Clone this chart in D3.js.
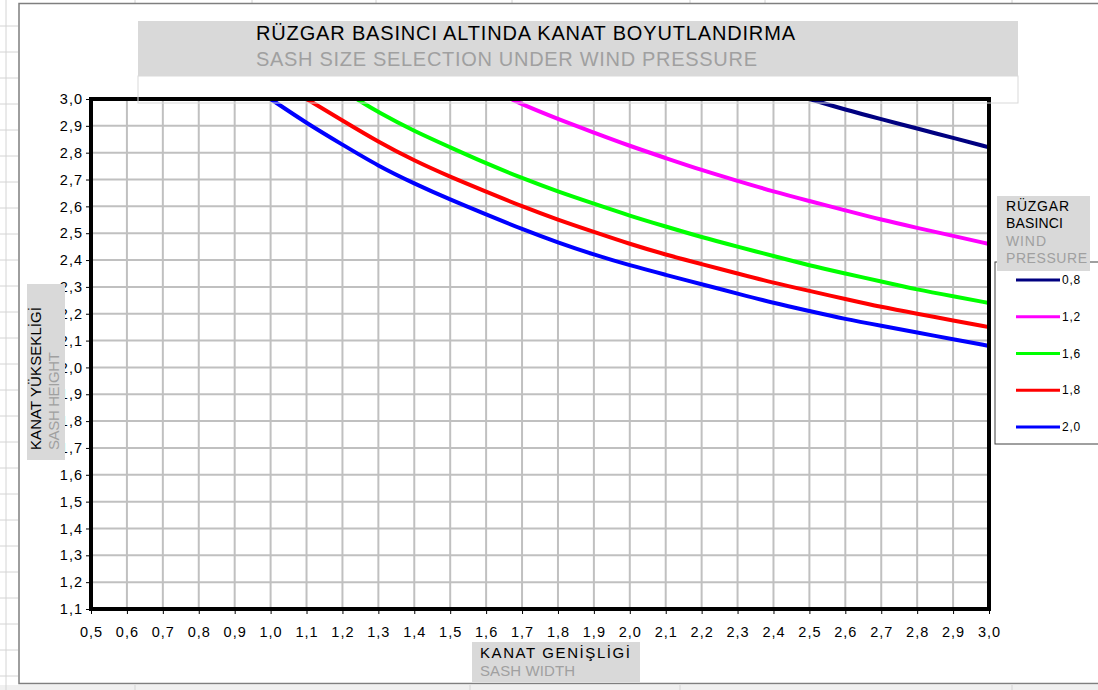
<!DOCTYPE html>
<html>
<head>
<meta charset="utf-8">
<script src="https://cdn.jsdelivr.net/npm/d3@7"></script>
<style>
	body { margin: 0; background: #fff; }
	text { font-family: "Liberation Sans", Arial, sans-serif; }
</style>
</head>
<body>
<svg id="chart"></svg>
<script>
// DATA

var pressures = ["0,8", "1,2", "1,6", "1,8", "2,0"];
var colors = ["#000080", "#ff00ff", "#00ff00", "#ff0000", "#0000ff"];

var w08 = [2.5, 2.6, 2.7, 2.8, 2.9, 3.0];
var h08 = [3.0, 2.96, 2.925, 2.89, 2.855, 2.82];

var w12 = [1.67, 1.7, 1.8, 1.9, 2.0, 2.1, 2.2, 2.3, 2.4, 2.5, 2.6, 2.7, 2.8, 2.9, 3.0];
var h12 = [3.0, 2.98, 2.925, 2.875, 2.825, 2.78, 2.735, 2.695, 2.655, 2.62, 2.585, 2.55, 2.52, 2.49, 2.46];

var w16 = [1.24, 1.3, 1.4, 1.5, 1.6, 1.7, 1.8, 1.9, 2.0, 2.1, 2.2, 2.3, 2.4, 2.5, 2.6, 2.7, 2.8, 2.9, 3.0];
var h16 = [3.0, 2.95, 2.88, 2.82, 2.76, 2.705, 2.655, 2.61, 2.565, 2.525, 2.485, 2.45, 2.415, 2.38, 2.35, 2.32, 2.29, 2.265, 2.24];

var w18 = [1.1, 1.2, 1.3, 1.4, 1.5, 1.6, 1.7, 1.8, 1.9, 2.0, 2.1, 2.2, 2.3, 2.4, 2.5, 2.6, 2.7, 2.8, 2.9, 3.0];
var h18 = [3.0, 2.92, 2.84, 2.77, 2.71, 2.655, 2.60, 2.55, 2.505, 2.46, 2.42, 2.385, 2.35, 2.315, 2.285, 2.255, 2.225, 2.20, 2.175, 2.15];

var w20 = [1.0, 1.1, 1.2, 1.3, 1.4, 1.5, 1.6, 1.7, 1.8, 1.9, 2.0, 2.1, 2.2, 2.3, 2.4, 2.5, 2.6, 2.7, 2.8, 2.9, 3.0];
var h20 = [3.0, 2.91, 2.83, 2.75, 2.685, 2.625, 2.57, 2.515, 2.465, 2.42, 2.38, 2.345, 2.31, 2.275, 2.24, 2.21, 2.18, 2.155, 2.13, 2.105, 2.08];

var xTicks = [0.5, 0.6, 0.7, 0.8, 0.9, 1.0, 1.1, 1.2, 1.3, 1.4, 1.5, 1.6, 1.7, 1.8, 1.9, 2.0, 2.1, 2.2, 2.3, 2.4, 2.5, 2.6, 2.7, 2.8, 2.9, 3.0];
var yTicks = [1.1, 1.2, 1.3, 1.4, 1.5, 1.6, 1.7, 1.8, 1.9, 2.0, 2.1, 2.2, 2.3, 2.4, 2.5, 2.6, 2.7, 2.8, 2.9, 3.0];

var series = [
	{ w: w08, h: h08 },
	{ w: w12, h: h12 },
	{ w: w16, h: h16 },
	{ w: w18, h: h18 },
	{ w: w20, h: h20 }
];

// DIMENSIONS

var width = 1098,
	height = 690,
	plotLeft = 91, plotRight = 989,
	plotTop = 99, plotBottom = 609;

var svg = d3.select("#chart")
	.attr('width', width)
	.attr('height', height);

var fmt = function(d) { return d3.format(".1f")(d).replace(".", ","); };

// spreadsheet behind the chart
var sheet = svg.append('g').attr('stroke', '#d4d4d4').attr('stroke-width', 1);
sheet.append('rect').attr('x', 0).attr('y', 685).attr('width', width).attr('height', 5)
	.attr('fill', '#f0f0f0').attr('stroke', 'none');
sheet.append('line').attr('x1', 6).attr('x2', 6).attr('y1', 0).attr('y2', height);
for (var r = 26; r < 685; r += 26) {
	sheet.append('line').attr('x1', 0).attr('x2', 18).attr('y1', r).attr('y2', r);
}
[135, 252, 376, 512, 690, 765, 1012].forEach(function(x) {
	sheet.append('line').attr('x1', x).attr('x2', x).attr('y1', 0).attr('y2', 3);
});
[135, 470, 680, 1012].forEach(function(x) {
	sheet.append('line').attr('x1', x).attr('x2', x).attr('y1', 685).attr('y2', height);
});

// chart frame
svg.append('rect')
	.attr('x', 19).attr('y', 3.5)
	.attr('width', width + 10).attr('height', 680)
	.attr('fill', '#fff')
	.attr('stroke', '#7f7f7f')
	.attr('stroke-width', 1.5);

// SCALES

var xScale = d3.scaleLinear().domain([0.5, 3.0]).range([plotLeft, plotRight]);
var yScale = d3.scaleLinear().domain([1.1, 3.0]).range([plotBottom, plotTop]);

// grid
var grid = svg.append('g').attr('stroke', '#c0c0c0').attr('stroke-width', 2);
grid.selectAll('.vx').data(xTicks).enter().append('line')
	.attr('x1', function(d) { return xScale(d); })
	.attr('x2', function(d) { return xScale(d); })
	.attr('y1', plotTop).attr('y2', plotBottom);
grid.selectAll('.hy').data(yTicks).enter().append('line')
	.attr('x1', plotLeft).attr('x2', plotRight)
	.attr('y1', function(d) { return yScale(d); })
	.attr('y2', function(d) { return yScale(d); });

// axes
var xAxis = d3.axisBottom(xScale).tickValues(xTicks).tickFormat(fmt).tickSize(5).tickSizeOuter(0);
var yAxis = d3.axisLeft(yScale).tickValues(yTicks).tickFormat(fmt).tickSize(5).tickSizeOuter(0);

var gx = svg.append('g').attr('transform', 'translate(0,' + plotBottom + ')').call(xAxis);
var gy = svg.append('g').attr('transform', 'translate(' + plotLeft + ',0)').call(yAxis);
[gx, gy].forEach(function(g) {
	g.select('.domain').remove();
	g.selectAll('line').attr('stroke', '#000');
	g.selectAll('text')
		.style('font-size', '14.5px')
		.style('letter-spacing', '1px')
		.attr('fill', '#000');
});
gx.selectAll('text').attr('dy', '1.4em');
gy.selectAll('text').attr('x', -8);

// lines
svg.append('clipPath').attr('id', 'plotclip')
	.append('rect').attr('x', plotLeft).attr('y', plotTop - 2)
	.attr('width', plotRight - plotLeft + 2).attr('height', plotBottom - plotTop + 2);

var line = d3.line()
	.x(function(d) { return xScale(d[0]); })
	.y(function(d) { return yScale(d[1]); })
	.curve(d3.curveBasis);

svg.append('g').attr('clip-path', 'url(#plotclip)')
	.selectAll('path').data(series)
	.enter().append('path')
	.attr('d', function(s) { return line(d3.zip(s.w, s.h)); })
	.attr('fill', 'none')
	.attr('stroke', function(s, i) { return colors[i]; })
	.attr('stroke-width', 4);

// plot border
svg.append('rect')
	.attr('x', plotLeft).attr('y', plotTop)
	.attr('width', plotRight - plotLeft).attr('height', plotBottom - plotTop)
	.attr('fill', 'none')
	.attr('stroke', '#000')
	.attr('stroke-width', 4);

// title
svg.append('rect').attr('x', 138).attr('y', 76).attr('width', 880).attr('height', 27)
	.attr('fill', 'none').attr('stroke', '#d9d9d9');
svg.append('rect').attr('x', 138).attr('y', 21).attr('width', 880).attr('height', 55)
	.attr('fill', '#d9d9d9');
svg.append('text').attr('x', 256).attr('y', 40)
	.style('font-size', '20px').attr('fill', '#000')
	.attr('textLength', 539).attr('lengthAdjust', 'spacing')
	.text('RÜZGAR BASINCI ALTINDA KANAT BOYUTLANDIRMA');
svg.append('text').attr('x', 256).attr('y', 66)
	.style('font-size', '20px').attr('fill', '#a0a0a0')
	.attr('textLength', 501).attr('lengthAdjust', 'spacing')
	.text('SASH SIZE SELECTION UNDER WIND PRESSURE');

// y axis title
svg.append('rect').attr('x', 27).attr('y', 284).attr('width', 38).attr('height', 176)
	.attr('fill', '#d9d9d9');
svg.append('text').attr('transform', 'translate(41,450) rotate(-90)')
	.style('font-size', '15px').attr('fill', '#000')
	.attr('textLength', 143).attr('lengthAdjust', 'spacing')
	.text('KANAT YÜKSEKLİGİ');
svg.append('text').attr('transform', 'translate(59,450) rotate(-90)')
	.style('font-size', '15px').attr('fill', '#a0a0a0')
	.attr('textLength', 98).attr('lengthAdjust', 'spacing')
	.text('SASH HEIGHT');

// x axis title
svg.append('rect').attr('x', 472).attr('y', 642).attr('width', 168).attr('height', 40)
	.attr('fill', '#d9d9d9');
svg.append('text').attr('x', 480).attr('y', 658)
	.style('font-size', '15px').attr('fill', '#000')
	.attr('textLength', 150).attr('lengthAdjust', 'spacing')
	.text('KANAT GENİŞLİGİ');
svg.append('text').attr('x', 480).attr('y', 676)
	.style('font-size', '15px').attr('fill', '#a0a0a0')
	.attr('textLength', 95).attr('lengthAdjust', 'spacing')
	.text('SASH WIDTH');

// legend
svg.append('rect').attr('x', 995).attr('y', 262).attr('width', 120).attr('height', 182)
	.attr('fill', '#fff').attr('stroke', '#404040');
svg.append('rect').attr('x', 997).attr('y', 196).attr('width', 93).attr('height', 75)
	.attr('fill', '#d9d9d9');
[['RÜZGAR', '#000', 63], ['BASINCI', '#000', 57], ['WIND', '#a0a0a0', 40], ['PRESSURE', '#a0a0a0', 81]].forEach(function(t, i) {
	svg.append('text').attr('x', 1006).attr('y', 211 + i * 17.3)
		.style('font-size', '14px').attr('fill', t[1])
		.attr('textLength', t[2]).attr('lengthAdjust', 'spacing')
		.text(t[0]);
});

var legendY = d3.scalePoint().domain(pressures).range([280, 427]);
var items = svg.selectAll('.leg').data(pressures).enter().append('g')
	.attr('transform', function(d) { return 'translate(0,' + legendY(d) + ')'; });
items.append('line')
	.attr('x1', 1016).attr('x2', 1060)
	.attr('stroke', function(d, i) { return colors[i]; })
	.attr('stroke-width', 3);
items.append('text').attr('x', 1062).attr('dy', '0.35em')
	.style('font-size', '12px').style('letter-spacing', '0.8px').attr('fill', '#000')
	.text(function(d) { return d; });
</script>
</body>
</html>
